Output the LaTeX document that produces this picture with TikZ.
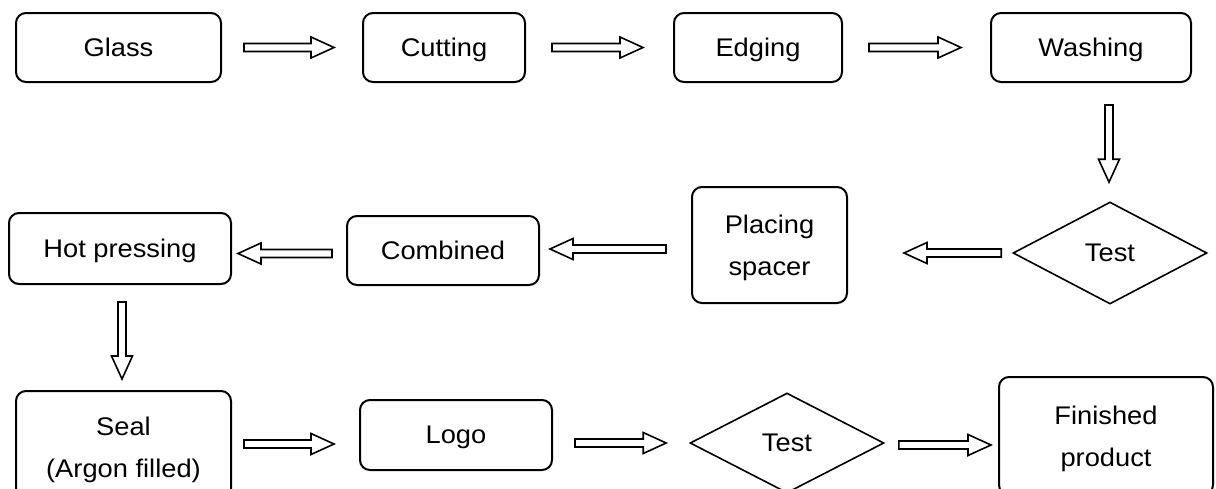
\documentclass[tikz,border=0pt]{standalone}
\usepackage{fontspec}
\setmainfont{Liberation Sans}[FakeStretch=1.07]
\usetikzlibrary{calc,shapes.geometric}

% hollow block arrows: half shaft width, half head width, head length
\newcommand\shaftw{2pt}
\newcommand\headw{5.25pt}
\newcommand\headl{11.5pt}

\begin{document}
\begin{tikzpicture}[x=0.5pt,y=-0.5pt,
  every node/.style={font=\fontsize{12.75pt}{21pt}\selectfont, align=center,
    inner sep=0pt, text depth=0pt},
  sz/.style 2 args={minimum width=#1*0.5pt, minimum height=#2*0.5pt},
  box/.style={draw, line width=1pt, rounded corners=5pt},
  dia/.style={draw, diamond, line width=0.8pt},
  blk/.style={draw, line width=0.8pt, fill=white, line join=miter},
  hblk/.style={blk, to path={
    let \p1=(\tikztostart), \p2=(\tikztotarget), \n1={sign(\x2-\x1)} in
    (\x1,{\y1+\shaftw}) -- ({\x2-(\n1)*\headl},{\y1+\shaftw})
    -- ({\x2-(\n1)*\headl},{\y1+\headw}) -- (\x2,\y1)
    -- ({\x2-(\n1)*\headl},{\y1-\headw}) -- ({\x2-(\n1)*\headl},{\y1-\shaftw})
    -- (\x1,{\y1-\shaftw}) -- cycle}},
  vblk/.style={blk, to path={
    let \p1=(\tikztostart), \p2=(\tikztotarget), \n1={sign(\y2-\y1)} in
    ({\x1+\shaftw},\y1) -- ({\x1+\shaftw},{\y2-(\n1)*\headl})
    -- ({\x1+\headw},{\y2-(\n1)*\headl}) -- (\x1,\y2)
    -- ({\x1-\headw},{\y2-(\n1)*\headl}) -- ({\x1-\shaftw},{\y2-(\n1)*\headl})
    -- ({\x1-\shaftw},\y1) -- cycle}}
]
\useasboundingbox (0,0) rectangle (1216,488);
\clip (0,0) rectangle (1216,488);

% first row
\node[box, sz={205}{69}] (glass) at (118.5,47.5) {Glass};
\node[box, sz={162}{69}] (cut)   at (444,47.5)   {Cutting};
\node[box, sz={168}{69}] (edge)  at (758,47.5)   {Edging};
\node[box, sz={200}{69}] (wash)  at (1091,47.5)  {Washing};

% second row
\node[dia, sz={194}{102}] (test1) at (1110,253)  {Test};
\node[box, sz={155}{116}] (place) at (769.5,245) {Placing\\spacer};
\node[box, sz={192}{69}]  (comb)  at (443,250.5) {Combined};
\node[box, sz={222}{71}]  (hot)   at (120,248.5) {Hot pressing};

% third row
\node[box, sz={215}{112}] (seal)  at (123.5,447) {Seal\\(Argon filled)};
\node[box, sz={192}{70}]  (logo)  at (456,435)   {Logo};
\node[dia, sz={194}{100}] (test2) at (787,443)   {Test};
\node[box, sz={214}{118}] (fin)   at (1106,436)  {Finished\\product};

% connectors
\draw[hblk] ($(glass.east)+(22,0)$) to ($(cut.west)+(-28,0)$);
\draw[hblk] ($(cut.east)+(26,0)$)   to ($(edge.west)+(-30,0)$);
\draw[hblk] ($(edge.east)+(26,0)$)  to ($(wash.west)+(-29,0)$);
\draw[vblk] ($(wash.south -| test1.north)+(-1,22)$) to ($(test1.north)+(0,-19)$);
\draw[hblk] ($(test1.west)+(-11,0)$) to ($(place.east)+(56,0)$);
\draw[hblk] ($(place.west)+(-25,4)$) to ($(comb.east)+(10,0)$);
\draw[hblk] ($(comb.west)+(-14,3)$)  to ($(hot.east)+(6,0)$);
\draw[vblk] ($(hot.south)+(2,17)$)   to ($(seal.north)+(0,-11)$);
\draw[hblk] ($(seal.east)+(12,-3)$)  to ($(logo.west)+(-25,0)$);
\draw[hblk] ($(logo.east)+(22,8)$)   to ($(test2.west)+(-23,0)$);
\draw[hblk] ($(test2.east)+(14,2)$)  to ($(fin.west)+(-7,0)$);
\end{tikzpicture}
\end{document}
